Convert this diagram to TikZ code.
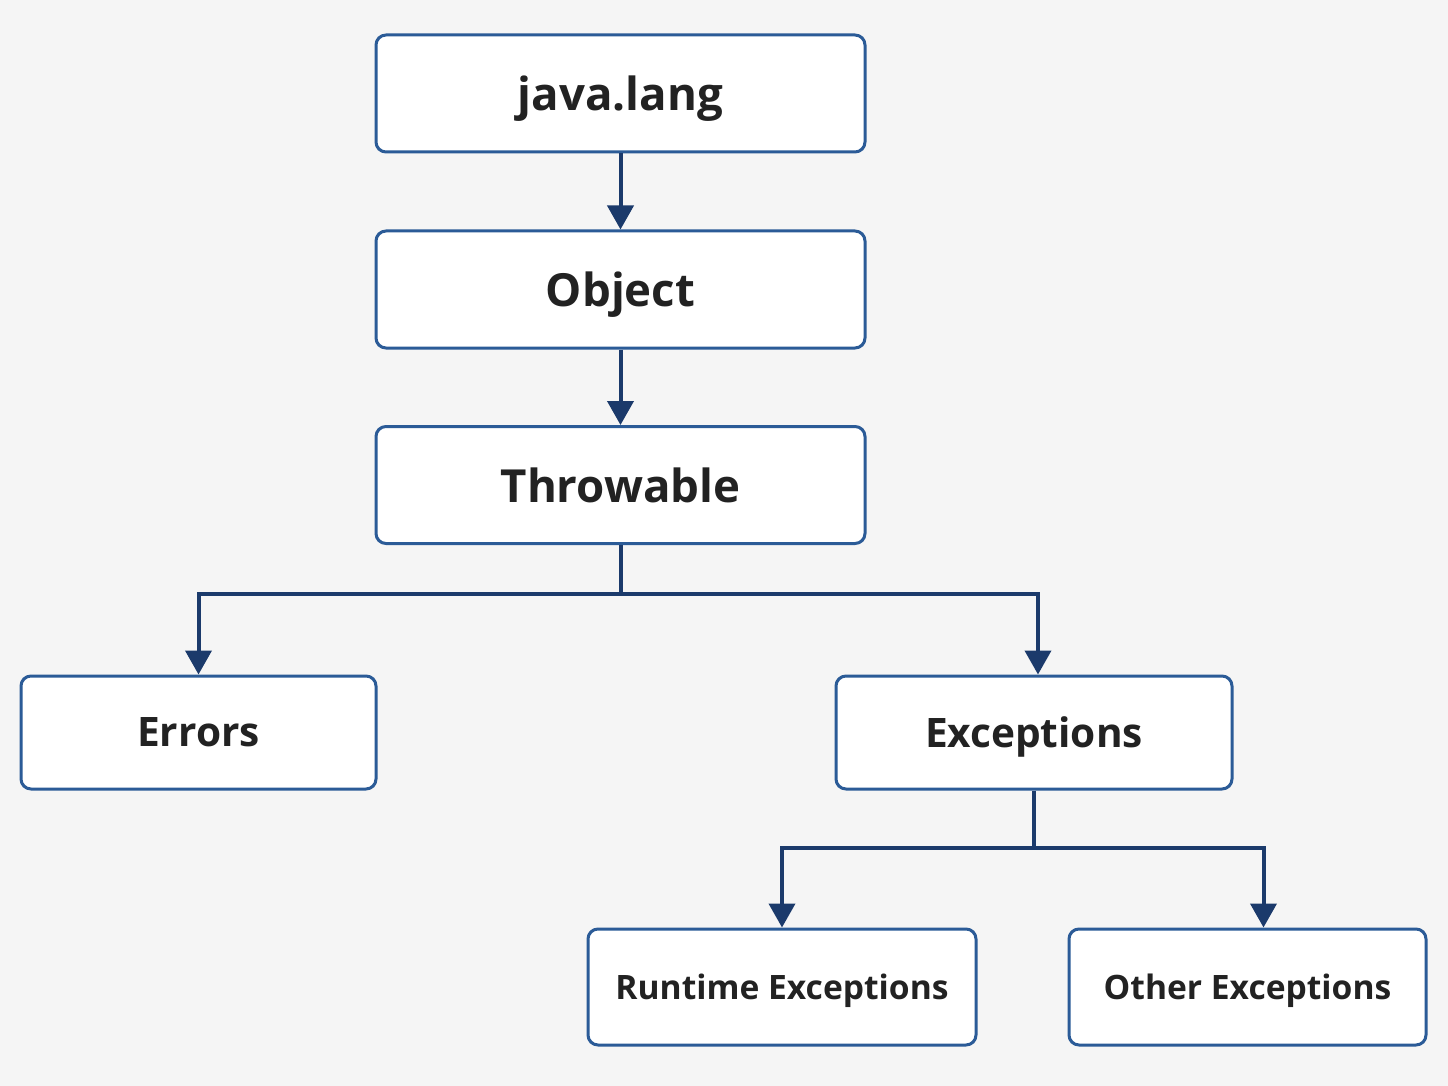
\documentclass[tikz,border=0pt]{standalone}
\usepackage{fontspec}
\setmainfont{Open Sans}
\usetikzlibrary{arrows.meta}
\definecolor{bg}{HTML}{F5F5F5}
\definecolor{boxline}{HTML}{2B5B97}
\definecolor{arrline}{HTML}{1B3A6B}
\definecolor{txt}{HTML}{222222}
\begin{document}
\begin{tikzpicture}[x=0.5pt,y=-0.5pt,
  box/.style={draw=boxline, line width=1.5pt, fill=white, rounded corners=5pt, text=txt, text depth=0pt},
  big/.style={box, minimum width=244.5pt, minimum height=58.5pt, font=\fontsize{22.8}{27}\selectfont\bfseries},
  mid/.style={box, minimum height=56.5pt, font=\fontsize{20.3}{24}\selectfont\bfseries},
  small/.style={box, minimum height=58pt, font=\fontsize{16.8}{20}\selectfont\bfseries},
  conn/.style={draw=arrline, line width=2pt},
  arr/.style={conn, -{Triangle[width=13pt,length=12pt]}}]
\fill[bg] (0,0) rectangle (1448,1086);
\useasboundingbox (0,0) rectangle (1448,1086);
\node[big] (jl) at (620.5,93.5) {java.lang};
\node[big] (obj) at (620.5,289.5) {Object};
\node[big] (thr) at (620.5,485) {Throwable};
\node[mid, minimum width=177.5pt] (err) at (198.5,732.5) {Errors};
\node[mid, minimum width=198pt] (exc) at (1034,732.5) {Exceptions};
\node[small, minimum width=194pt] (rt) at (782,987) {Runtime Exceptions};
\node[small, minimum width=178.5pt] (oth) at (1247.5,987) {Other Exceptions};
\coordinate (b1) at (622,594);
\coordinate (b2) at (1033,848);
\draw[arr] (jl.south) -- (obj.north);
\draw[arr] (obj.south) -- (thr.north);
\draw[conn] (thr.south) -- (thr.south |- b1);
\draw[arr] (thr.south |- b1) -| (err.north);
\draw[arr] (thr.south |- b1) -| ([xshift=2pt]exc.north);
\draw[conn] (exc.south) -- (exc.south |- b2);
\draw[arr] (exc.south |- b2) -| (rt.north);
\draw[arr] (exc.south |- b2) -| ([xshift=8pt]oth.north);
\end{tikzpicture}
\end{document}
